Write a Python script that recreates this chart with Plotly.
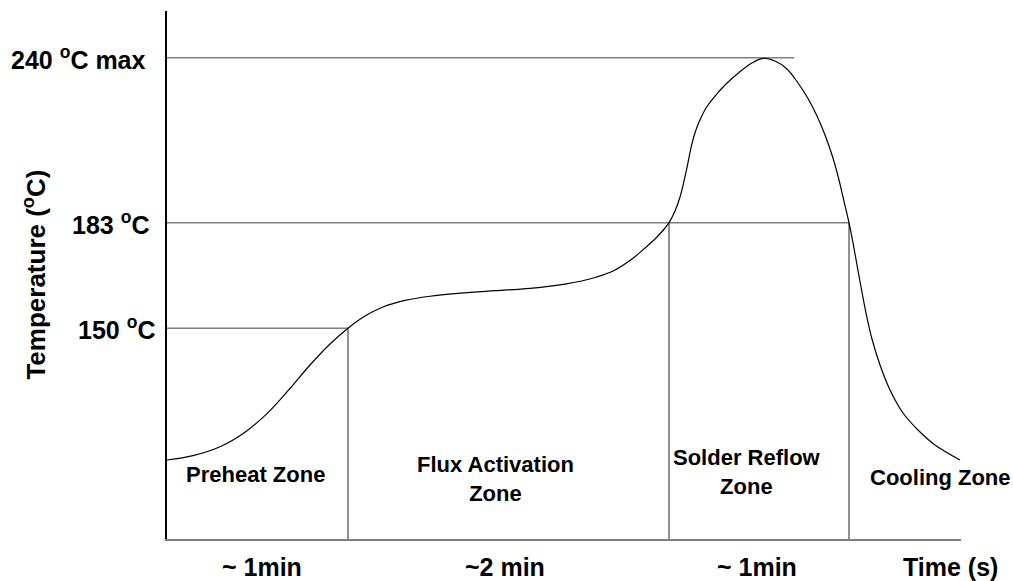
import plotly.graph_objects as go

# ---- data (schematic units: time in s-like units, height in % of axis) ----
curve_t = [0, 8.68, 17.69, 26.03, 33.71, 41.05, 47.73, 54.40, 60.41, 66.08,
           72.09, 79.43, 87.78, 97.79, 109.47, 121.15, 132.84, 142.85, 149.52, 155.20,
           159.54, 162.87, 165.54, 167.55, 169.55, 171.22, 172.55, 173.72, 174.72, 175.89,
           177.56, 179.90, 182.90, 186.57, 190.91, 194.92, 198.92, 202.93, 206.93, 210.60,
           213.94, 216.94, 219.61, 221.95, 223.95, 225.62, 227.62, 228.96, 230.29, 231.63,
           233.30, 235.30, 237.97, 241.31, 245.65, 250.65, 256.33, 264.67]
curve_h = [14.96, 15.80, 17.48, 20.23, 23.94, 28.52, 32.95, 36.93, 39.92, 42.23,
           43.94, 45.19, 45.98, 46.55, 47.03, 47.48, 48.28, 49.53, 50.95, 53.03,
           55.11, 56.82, 58.43, 59.91, 62.12, 64.77, 67.80, 70.83, 73.67, 76.33,
           78.98, 81.63, 83.90, 86.17, 88.35, 90.06, 91.04, 90.53, 89.02, 86.36,
           83.43, 80.11, 76.52, 72.73, 68.75, 64.77, 59.91, 56.06, 51.89, 47.73,
           42.80, 37.88, 32.95, 28.22, 23.86, 20.64, 17.80, 14.96]

level_labels = ["150 <sup>o</sup>C", "183 <sup>o</sup>C", "240 <sup>o</sup>C max"]
level_h = [39.92, 59.91, 91.16]
level_end_t = [60.41, 227.62, 209.3]

zone_bounds_t = [60.41, 167.55, 227.62]
zone_bounds_top = [39.92, 59.91, 59.91]

zone_labels = ["Preheat Zone", "Flux Activation<br>Zone", "Solder Reflow<br>Zone", "Cooling Zone"]
zone_label_t = [29.5, 109.5, 193.5, 258.0]
zone_label_h = [12.3, 11.3, 12.6, 11.6]

duration_labels = ["~ 1min", "~2 min", "~ 1min"]
duration_t = [31.7, 112.8, 196.8]

FONT = "Liberation Sans, Arial, sans-serif"

fig = go.Figure()

# reference temperature levels
for h, te in zip(level_h, level_end_t):
    fig.add_trace(go.Scatter(x=[0, te], y=[h, h], mode="lines",
                             line=dict(color="#7f7f7f", width=1.6),
                             hoverinfo="skip", showlegend=False))
# zone boundaries
for t, top in zip(zone_bounds_t, zone_bounds_top):
    fig.add_trace(go.Scatter(x=[t, t], y=[0, top], mode="lines",
                             line=dict(color="#555555", width=1.3),
                             hoverinfo="skip", showlegend=False))
# profile curve
fig.add_trace(go.Scatter(x=curve_t, y=curve_h, mode="lines",
                         line=dict(color="black", width=1.2, shape="spline", smoothing=1.0),
                         hoverinfo="skip", showlegend=False))

ann = []
shifts = [-10, -16, -19]
for lab, h, s in zip(level_labels, level_h, shifts):
    ann.append(dict(text="<b>" + lab + "</b>", x=0, xref="paper", y=h, yref="y",
                    xanchor="right", yanchor="middle", xshift=s, showarrow=False,
                    font=dict(family=FONT, size=25, color="black")))
for lab, t, h in zip(zone_labels, zone_label_t, zone_label_h):
    ann.append(dict(text="<b>" + lab + "</b>", x=t, y=h, xref="x", yref="y",
                    showarrow=False, align="center",
                    font=dict(family=FONT, size=22, color="black")))
for lab, t in zip(duration_labels, duration_t):
    ann.append(dict(text="<b>" + lab + "</b>", x=t, xref="x", y=0, yref="paper",
                    yanchor="middle", yshift=-28, showarrow=False,
                    font=dict(family=FONT, size=25, color="black")))
ann.append(dict(text="<b>Time (s)</b>", x=1, xref="paper", y=0, yref="paper",
                xanchor="right", yanchor="middle", xshift=39, yshift=-28,
                showarrow=False, font=dict(family=FONT, size=25, color="black")))
ann.append(dict(text="<b>Temperature (<sup>o</sup>C)</b>", x=-0.168, xref="paper",
                y=0.5, yref="paper", textangle=-90, showarrow=False,
                xanchor="center", yanchor="middle",
                font=dict(family=FONT, size=26, color="black")))

fig.update_layout(
    width=1013, height=581,
    margin=dict(l=167, r=52, t=11, b=42),
    paper_bgcolor="white", plot_bgcolor="white",
    annotations=ann,
    xaxis=dict(range=[0, 265], showgrid=False, zeroline=False, showticklabels=False,
               ticks="", showline=True, linecolor="#7f7f7f", linewidth=2, fixedrange=True),
    yaxis=dict(range=[0, 100], showgrid=False, zeroline=False, showticklabels=False,
               ticks="", showline=True, linecolor="black", linewidth=1.5, fixedrange=True),
)

fig.write_html("out.html", config={"displayModeBar": False},
               post_script="document.body.style.margin='0';document.body.style.overflow='hidden';")
